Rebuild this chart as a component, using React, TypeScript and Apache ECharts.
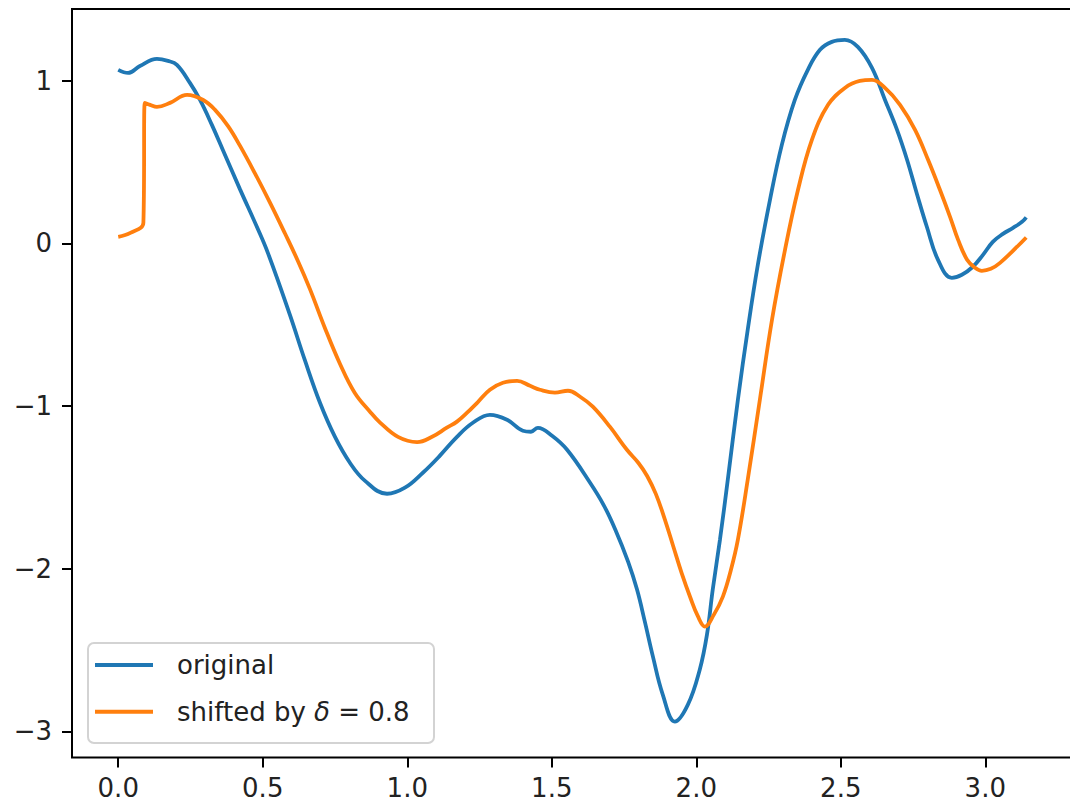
import React, { useEffect, useRef } from "react";
import * as echarts from "echarts";

const xTicks = [0, 0.5, 1, 1.5, 2, 2.5, 3];
const yTicks = [-3, -2, -1, 0, 1];

const seriesNames = ["original", "shifted by δ = 0.8"];

const originalX = [
  0, 0.034, 0.075, 0.134, 0.172, 0.203, 0.248, 0.283, 0.324, 0.362, 0.421, 0.48, 0.518, 0.594, 0.646,
  0.698, 0.75, 0.802, 0.854, 0.93, 0.992, 1.054, 1.113, 1.172, 1.227, 1.286, 1.345, 1.4, 1.428, 1.452,
  1.501, 1.553, 1.632, 1.68, 1.72, 1.764, 1.795, 1.822, 1.85, 1.884, 1.926, 1.971, 2.012, 2.037,
  2.057, 2.082, 2.109, 2.144, 2.178, 2.213, 2.255, 2.296, 2.341, 2.386, 2.428, 2.469, 2.514, 2.559,
  2.608, 2.653, 2.694, 2.729, 2.764, 2.798, 2.836, 2.884, 2.919, 2.957, 2.992, 3.026, 3.061, 3.096,
  3.127, 3.1416,
];
const originalY = [
  1.066, 1.047, 1.09, 1.133, 1.121, 1.097, 0.986, 0.881, 0.728, 0.574, 0.333, 0.1, -0.06, -0.44,
  -0.72, -0.98, -1.19, -1.35, -1.46, -1.539, -1.502, -1.41, -1.305, -1.189, -1.103, -1.054, -1.084,
  -1.152, -1.158, -1.134, -1.183, -1.269, -1.47, -1.61, -1.76, -1.956, -2.128, -2.325, -2.54, -2.773,
  -2.939, -2.835, -2.62, -2.405, -2.128, -1.821, -1.453, -0.961, -0.531, -0.132, 0.267, 0.605, 0.881,
  1.066, 1.189, 1.238, 1.25, 1.207, 1.078, 0.881, 0.7, 0.515, 0.3, 0.1, -0.1, -0.212, -0.193,
  -0.144, -0.071, 0.009, 0.058, 0.095, 0.132, 0.16,
];

const shiftedX = [
  0, 0.042, 0.087, 0.092, 0.11, 0.134, 0.179, 0.238, 0.294, 0.335, 0.38, 0.421, 0.473, 0.525, 0.577,
  0.622, 0.663, 0.715, 0.767, 0.818, 0.871, 0.905, 0.968, 1.034, 1.086, 1.137, 1.172, 1.207, 1.245,
  1.286, 1.331, 1.38, 1.425, 1.459, 1.511, 1.556, 1.598, 1.642, 1.701, 1.76, 1.8, 1.83, 1.86, 1.89,
  1.92, 1.95, 1.98, 2.005, 2.03, 2.061, 2.092, 2.12, 2.144, 2.178, 2.22, 2.262, 2.307, 2.352, 2.4, 2.456,
  2.514, 2.566, 2.608, 2.653, 2.705, 2.757, 2.802, 2.843, 2.878, 2.906, 2.937, 2.964, 2.988, 3.019,
  3.051, 3.11, 3.1416,
];
const shiftedY = [
  0.04, 0.064, 0.126, 0.863, 0.851, 0.838, 0.863, 0.912, 0.881, 0.82, 0.72, 0.6, 0.43, 0.25, 0.06,
  -0.11, -0.28, -0.52, -0.74, -0.918, -1.035, -1.1, -1.19, -1.222, -1.189, -1.133, -1.096,
  -1.041, -0.974, -0.9, -0.857, -0.845, -0.876, -0.9, -0.918, -0.906, -0.943, -1.004, -1.127, -1.269,
  -1.35, -1.43, -1.54, -1.69, -1.86, -2.03, -2.18, -2.29, -2.356, -2.282, -2.171, -2.006, -1.821,
  -1.453, -0.961, -0.47, -0.04, 0.329, 0.636, 0.851, 0.955, 0.998, 1.004, 0.955, 0.851, 0.697, 0.513,
  0.329, 0.163, 0.021, -0.101, -0.15, -0.169, -0.157, -0.12, -0.021, 0.036,
];

const colors = ["#1f77b4", "#ff7f0e"];
const FONT = "DejaVu Sans";

function pairs(xs: number[], ys: number[]) {
  return xs.map((x, i) => [x, ys[i]]);
}

export default function App() {
  const ref = useRef<HTMLDivElement>(null);
  useEffect(() => {
    document.body.style.margin = "0";
    const chart = echarts.init(ref.current!, null, { renderer: "svg" });
    const fmtY = (v: number) => (v < 0 ? "\u2212" + Math.abs(v) : String(v));
    chart.setOption({
      animation: false,
      backgroundColor: "#ffffff",
      textStyle: { fontFamily: FONT },
      grid: {
        left: 72,
        top: 9,
        width: 1000,
        height: 748.5,
        outerBoundsMode: "none",
        containLabel: false,
        show: true,
        borderColor: "#000",
        borderWidth: 2,
        backgroundColor: "transparent",
      },
      xAxis: {
        type: "value",
        min: -0.16,
        max: 3.3,
        position: "bottom",
        splitLine: { show: false },
        axisLine: { show: false, onZero: false },
        axisTick: {
          show: true,
          customValues: xTicks,
          length: 10,
          inside: false,
          lineStyle: { color: "#000", width: 2 },
        },
        axisLabel: {
          customValues: xTicks,
          formatter: (v: number) => v.toFixed(1),
          fontSize: 26,
          fontFamily: FONT,
          color: "#222",
          margin: 17,
        },
      },
      yAxis: {
        type: "value",
        min: -3.16,
        max: 1.44,
        position: "left",
        splitLine: { show: false },
        axisLine: { show: false, onZero: false },
        axisTick: {
          show: true,
          customValues: yTicks,
          length: 10,
          inside: false,
          lineStyle: { color: "#000", width: 2 },
        },
        axisLabel: {
          customValues: yTicks,
          formatter: fmtY,
          fontSize: 26,
          fontFamily: FONT,
          color: "#222",
          margin: 20,
        },
      },
      legend: {
        orient: "vertical",
        left: 95,
        top: 650,
        padding: 0,
        z: 10,
        itemWidth: 58,
        itemHeight: 4,
        itemGap: 16.7,
        icon: "rect",
        data: seriesNames,
        formatter: (name: string) =>
          name === seriesNames[0]
            ? "{sp|}{t|original}"
            : "{sp|}{t|shifted by }{i|δ}{t| = 0.8}",
        textStyle: {
          fontFamily: FONT,
          fontSize: 26,
          color: "#222",
          lineHeight: 30,
          rich: {
            sp: { width: 19, lineHeight: 30 },
            t: { fontFamily: FONT, fontSize: 26, color: "#222", lineHeight: 30 },
            i: { fontFamily: FONT, fontSize: 26, color: "#222", fontStyle: "italic", lineHeight: 30 },
          },
        },
      },
      graphic: [
        {
          type: "rect",
          left: 87,
          top: 642,
          z: 3,
          shape: { width: 346, height: 100, r: 6 },
          style: { fill: "rgba(255,255,255,0.8)", stroke: "#d3d3d3", lineWidth: 2 },
        },
      ],
      series: [
        {
          name: seriesNames[0],
          type: "line",
          data: pairs(originalX, originalY),
          showSymbol: false,
          symbol: "none",
          smooth: 0.4,
          lineStyle: { color: colors[0], width: 3.8 },
          itemStyle: { color: colors[0] },
        },
        {
          name: seriesNames[1],
          type: "line",
          data: pairs(shiftedX, shiftedY),
          showSymbol: false,
          symbol: "none",
          smooth: 0.4,
          lineStyle: { color: colors[1], width: 3.8 },
          itemStyle: { color: colors[1] },
        },
      ],
    });
    return () => chart.dispose();
  }, []);
  return <div ref={ref} style={{ position: "absolute", left: 0, top: 0, width: 1070, height: 811 }} />;
}
